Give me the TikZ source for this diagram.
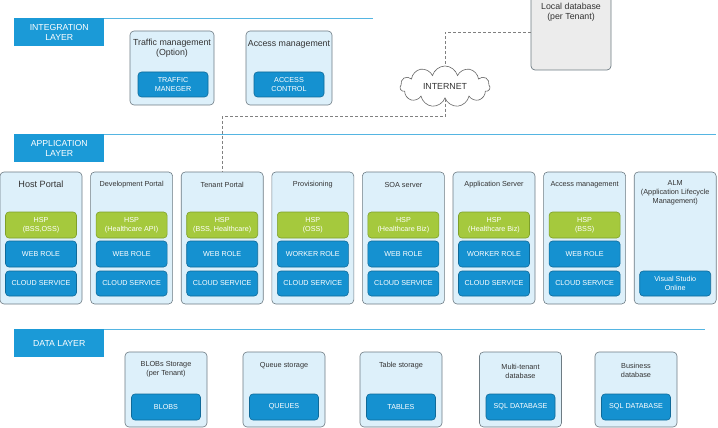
\documentclass[tikz,border=0pt]{standalone}
\usepackage{fontspec}
\setmainfont{Liberation Sans}
\usetikzlibrary{shapes.symbols}
\definecolor{outerfill}{HTML}{DDF0FA}
\definecolor{outerline}{HTML}{6D7B83}
\definecolor{bluefill}{HTML}{1591D0}
\definecolor{blueline}{HTML}{0F6A99}
\definecolor{greenfill}{HTML}{A5C93D}
\definecolor{greenline}{HTML}{7E9F2A}
\definecolor{labfill}{HTML}{1B9AD7}
\definecolor{layline}{HTML}{55B5E2}
\definecolor{txt}{HTML}{333333}
\definecolor{dbfill}{HTML}{ECECEC}
\begin{document}
\begin{tikzpicture}[x=1pt,y=-1pt,
  outerbox/.style={draw=outerline,fill=outerfill,rounded corners=4pt,line width=0.6pt,inner sep=0pt},
  bluebox/.style={draw=blueline,fill=bluefill,rounded corners=3.5pt,line width=0.6pt,text=white,align=center,
    font=\fontsize{7.2}{8.4}\selectfont,inner sep=0pt},
  greenbox/.style={draw=greenline,fill=greenfill,rounded corners=3.5pt,line width=0.6pt,text=white,align=center,
    font=\fontsize{7.2}{8.6}\selectfont,inner sep=0pt},
  labbox/.style={fill=labfill,text=white,align=center,font=\fontsize{8.7}{10}\selectfont,inner sep=0pt,
    minimum width=90pt,minimum height=28pt,anchor=north west},
  layerline/.style={draw=layline,line width=0.8pt},
  ttl/.style={text=txt,align=center,font=\fontsize{7.3}{8.8}\selectfont,inner sep=0pt},
  bigttl/.style={text=txt,align=center,font=\fontsize{8.8}{9.8}\selectfont,inner sep=0pt},
  dashlink/.style={draw=gray,line width=0.8pt,dash pattern=on 3pt off 2pt}
]
\useasboundingbox (0,0) rectangle (718,428);

% ---------- layer lines and labels
\draw[layerline] (14,18) -- (373,18);
\draw[layerline] (14,134) -- (716,134);
\draw[layerline] (14,329) -- (705,329);
\node[labbox] (labint) at (14,18) {INTEGRATION\\LAYER};
\node[labbox] (labapp) at (14,134) {APPLICATION\\LAYER};
\node[labbox] (labdata) at (14,329) {DATA LAYER};

% ---------- integration layer
\node[outerbox,minimum width=84pt,minimum height=74pt] (traffic) at (172,68) {};
\node[bigttl] (traffict) at (172,48.5) {Traffic management\\(Option)};
\node[bluebox,minimum width=70pt,minimum height=25pt] (trafficm) at (173,84.5) {TRAFFIC\\MANEGER};
\node[outerbox,minimum width=86pt,minimum height=74pt] (access) at (289,68) {};
\node[bigttl] (accesst) at (289,44) {Access management};
\node[bluebox,minimum width=70pt,minimum height=25pt] (accessc) at (289,84.5) {ACCESS\\CONTROL};

% local database
\node[draw=outerline,fill=dbfill,rounded corners=4pt,line width=0.7pt,minimum width=80pt,minimum height=76pt,inner sep=0pt] (ldb) at (571,32) {};
\node[bigttl] (ldbt) at (571,12) {Local database\\(per Tenant)};

% internet cloud
\node[cloud,cloud puffs=11,aspect=2.3,draw=gray!80!black,fill=white,line width=0.6pt,
  minimum width=90pt,minimum height=41pt,inner sep=0pt,text=txt,font=\fontsize{8.8}{10}\selectfont] (inet) at (445,86.5) {INTERNET};

% ---------- application layer
\foreach \i/\t/\h/\r in {1/{\fontsize{9.1}{10}\selectfont Host Portal}/{HSP\\(BSS,OSS)}/WEB ROLE,
  2/Development Portal/{HSP\\(Healthcare API)}/WEB ROLE,
  3/Tenant Portal/{HSP\\(BSS, Healthcare)}/WEB ROLE,
  4/Provisioning/{HSP\\(OSS)}/WORKER ROLE,
  5/SOA server/{HSP\\(Healthcare Biz)}/WEB ROLE,
  6/Application Server/{HSP\\(Healthcare Biz)}/WORKER ROLE,
  7/Access management/{HSP\\(BSS)}/WEB ROLE}{
  \pgfmathsetmacro{\cx}{(\i-1)*90.6+41}
  \node[outerbox,minimum width=82pt,minimum height=132pt] (col\i) at (\cx,238) {};
  \node[ttl] (colt\i) at (\cx,184.5) {\t};
  \node[greenbox,minimum width=71pt,minimum height=26pt] (hsp\i) at (\cx,225) {\h};
  \node[bluebox,minimum width=71pt,minimum height=26pt] (role\i) at (\cx,254) {\r};
  \node[bluebox,minimum width=71pt,minimum height=25pt] (cs\i) at (\cx,283.5) {CLOUD SERVICE};
}
\node[outerbox,minimum width=82pt,minimum height=132pt] (col8) at (675.2,238) {};
\node[ttl] (colt8) at (675.2,193) {ALM\\(Application Lifecycle\\Management)};
\node[bluebox,minimum width=71pt,minimum height=25pt] (vso) at (675.2,283.5) {Visual Studio\\Online};

% dashed links
\draw[dashlink] (ldb.west) -| (inet.north);
\draw[dashlink] (inet.south) -- ++(0,18) -| (col3.north);

% ---------- data layer
\foreach \i/\x/\t/\b/\ty in {1/166/{BLOBs Storage\\(per Tenant)}/BLOBS/369.5,
  2/284/Queue storage/QUEUES/366,
  3/401/Table storage/TABLES/366,
  4/520.5/{Multi-tenant\\database}/SQL DATABASE/371.5,
  5/636/{Business\\database}/SQL DATABASE/370}{
  \node[outerbox,minimum width=82pt,minimum height=75pt] (data\i) at (\x,389.5) {};
  \node[ttl] (datat\i) at (\x,\ty) {\t};
  \node[bluebox,minimum width=69pt,minimum height=26pt] (datab\i) at (\x,407) {\b};
}
\end{tikzpicture}
\end{document}
